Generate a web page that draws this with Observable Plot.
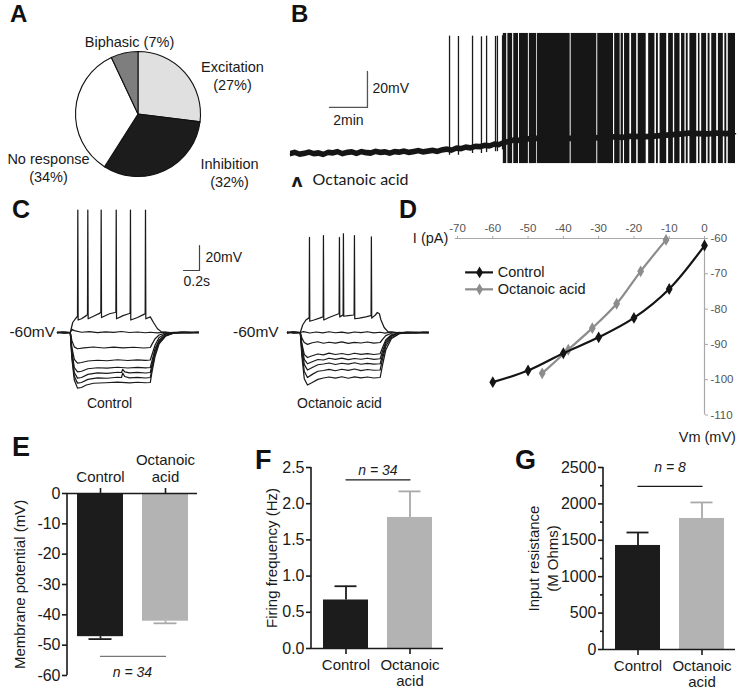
<!DOCTYPE html>
<html><head><meta charset="utf-8">
<script src="https://cdn.jsdelivr.net/npm/d3@7"></script>
<script src="https://cdn.jsdelivr.net/npm/@observablehq/plot@0.6"></script>
<style>
body{margin:0;background:#fff;}
#fig{position:relative;width:738px;height:689px;font-family:"Liberation Sans",Arial,sans-serif;overflow:hidden;background:#fff;}
.p{position:absolute;}
.lt{position:absolute;font-weight:bold;line-height:1;color:#111;}
</style></head><body><div id="fig"></div>
<script>
// ---------------- DATA ----------------
// A: response types
const pieLabels = ["Excitation", "Inhibition", "No response", "Biphasic"];
const piePercents = [27, 32, 34, 7];

// B: recording (time in min, membrane potential in mV)
const bBaselineTime = [0,0.25,0.5,0.75,1,1.25,1.5,1.75,2,2.25,2.5,2.75,3,3.25,3.5,3.75,4,4.25,4.5,4.75,5,5.25,5.5,5.75,6,6.25,6.5,6.75,7,7.25,7.5,7.75,8,8.25,8.5,8.75,9,9.25,9.5,9.75,10,10.25,10.5,10.75,11,11.25,11.5,11.75,12,12.5,13,13.5,14,14.5,15,15.5,16,16.5,17,17.5,18,18.5,19,19.5,20,20.5,21,21.5,22,22.5,23,23.42];
const bBaselineMv = [-60.3,-59.6,-60.5,-60.1,-59.4,-60.2,-59.9,-60.6,-59.5,-59.8,-59.1,-60.2,-59.6,-59.3,-60.1,-59.2,-59.7,-59.9,-59,-59.6,-59.3,-60,-59.1,-59.4,-58.8,-59.5,-59.2,-58.6,-59.3,-58.9,-58.4,-59,-58.2,-57.8,-58.3,-57.2,-57.5,-56.6,-57.1,-56.2,-56.4,-55.7,-55.9,-55,-55.2,-54,-53.6,-52.7,-52.9,-52,-51.8,-52.2,-51.6,-52,-51.5,-51.9,-51.3,-51.6,-51,-51.2,-50.5,-50.9,-50.6,-50.2,-49.8,-49.4,-48.8,-49.2,-49.3,-48.9,-49.2,-49];
const bSpikeTimes = [8.37, 8.84, 9.58, 10.05, 10.32, 10.79, 10.89, 11.16];
const bSpikePeakMv = [5.2, 5.0, 5.2, 4.8, 5.2, 5.0, 5.2, 5.4];
const bSpikeTroughMv = [-61, -61, -60, -60, -59.5, -59, -59, -58];
const bBurstTime = [11.2, 23.42];
const bBurstMv = [-65.6, 6.7];
const bSilenceStart = [11.38,11.69,12.0,12.52,12.96,14.72,16.12,17.0,17.35,17.52,17.86,18.22,18.72,19.18,19.36,19.8,20.15,20.5,20.76,20.93,21.38,21.55,21.9,22.08,22.43,22.78,22.96];
const bSilenceEnd   = [11.44,11.75,12.05,12.57,13.0,14.77,16.17,17.06,17.4,17.58,17.95,18.3,18.85,19.26,19.45,19.9,20.22,20.58,20.83,21.02,21.47,21.64,21.98,22.17,22.52,22.86,23.04];
const bScaleBarMin = 2, bScaleBarMv = 20;

// C: current-step traces (time in s, mV)
const cControlTraces = [
 [[0,-60.2],[0.05,-59.6],[0.1,-60.3],[0.16,-60],[0.18,-57.5],[0.21,-58.5],[0.3,-59.8],[0.4,-59.3],[0.5,-60.1],[0.6,-59.5],[0.7,-59.9],[0.8,-59.2],[0.9,-60],[1.0,-59.6],[1.1,-60.2],[1.16,-59.8],[1.25,-60.3],[1.35,-59.7],[1.45,-60.2],[1.55,-59.6],[1.65,-60.3],[1.76,-59.9]],
 [[0,-60],[0.08,-59.6],[0.16,-60],[0.19,-52],[0.23,-48.5],[0.25,-47],[0.254,38],[0.258,-50],[0.3,-49],[0.36,-46.5],[0.375,-45.5],[0.379,38],[0.383,-49],[0.45,-47],[0.53,-44.5],[0.542,-43.5],[0.546,38],[0.55,-48],[0.65,-45],[0.72,-44],[0.73,-43.5],[0.734,38],[0.738,-49],[0.82,-46.5],[0.89,-45],[0.908,-44.5],[0.912,38],[0.916,-50],[1.0,-48],[1.08,-45.5],[1.096,-45],[1.1,38],[1.104,-49],[1.16,-47.5],[1.2,-52],[1.25,-57],[1.3,-59.5],[1.4,-60.2],[1.55,-59.7],[1.76,-60.1]],
 [[0,-59.7],[0.08,-60.3],[0.16,-60],[0.18,-66.5],[0.21,-71.5],[0.25,-73],[0.33,-72.3],[0.45,-71.6],[0.58,-72.4],[0.7,-71.7],[0.82,-72.3],[0.95,-71.8],[1.08,-72.4],[1.16,-72],[1.18,-69.5],[1.22,-65],[1.27,-62],[1.35,-60.5],[1.45,-59.8],[1.6,-60.3],[1.76,-59.8]],
 [[0,-60.3],[0.08,-59.8],[0.16,-60],[0.18,-72],[0.21,-81.5],[0.25,-84.5],[0.3,-84],[0.38,-82.8],[0.5,-82.2],[0.62,-82.6],[0.75,-81.8],[0.88,-82.4],[1.0,-81.9],[1.1,-82.3],[1.16,-82],[1.18,-78],[1.22,-70],[1.27,-64],[1.35,-61],[1.45,-60.2],[1.6,-59.7],[1.76,-60.2]],
 [[0,-60],[0.08,-60.4],[0.16,-60],[0.18,-75],[0.21,-88],[0.25,-91.5],[0.3,-91],[0.38,-89],[0.5,-88.2],[0.62,-88.5],[0.75,-87.8],[0.88,-88.4],[1.0,-87.9],[1.1,-88.3],[1.16,-88],[1.18,-83],[1.22,-73],[1.27,-66],[1.35,-61.5],[1.45,-60.3],[1.6,-60],[1.76,-59.7]],
 [[0,-59.8],[0.08,-60.2],[0.16,-60],[0.18,-77],[0.21,-92],[0.25,-96.5],[0.3,-96],[0.38,-93.5],[0.5,-92.3],[0.62,-92.7],[0.75,-91.8],[0.8,-92],[0.815,-89.5],[0.84,-91.5],[0.9,-92.3],[1.0,-91.9],[1.1,-92.4],[1.16,-92],[1.18,-86],[1.22,-75],[1.27,-67],[1.35,-62],[1.45,-60.4],[1.6,-60.1],[1.76,-60]],
 [[0,-60.1],[0.08,-59.7],[0.16,-60],[0.18,-79],[0.21,-95],[0.25,-100.5],[0.3,-100],[0.38,-97.5],[0.5,-96.3],[0.62,-96.6],[0.75,-95.8],[0.8,-96],[0.815,-92.5],[0.84,-95.2],[0.9,-96.3],[1.0,-95.9],[1.1,-96.4],[1.16,-96],[1.18,-89],[1.22,-77],[1.27,-68],[1.35,-62.5],[1.45,-60.5],[1.6,-59.9],[1.76,-60.2]],
 [[0,-60],[0.08,-60.3],[0.16,-60],[0.18,-81],[0.21,-98],[0.25,-104.5],[0.3,-104],[0.36,-102],[0.45,-100.6],[0.6,-100.2],[0.75,-99.7],[0.9,-100.3],[1.0,-99.8],[1.1,-100.2],[1.16,-100],[1.18,-92],[1.22,-79],[1.27,-69],[1.35,-63],[1.45,-60.6],[1.6,-60],[1.76,-59.8]]
];
const cOctanoicTraces = [
 [[0,-60.3],[0.06,-59.5],[0.12,-60.4],[0.16,-60],[0.2,-59.3],[0.28,-60.4],[0.36,-59.6],[0.44,-60.3],[0.52,-59.4],[0.6,-60.2],[0.68,-59.7],[0.76,-60.5],[0.84,-59.6],[0.92,-60.1],[1.0,-59.4],[1.08,-60.3],[1.16,-59.8],[1.22,-60.5],[1.3,-59.5],[1.4,-60.3],[1.5,-59.6],[1.6,-60.4],[1.7,-59.7],[1.76,-60.1]],
 [[0,-60],[0.08,-59.6],[0.16,-60],[0.19,-54],[0.23,-50],[0.265,-48.5],[0.271,-47.5],[0.275,16],[0.279,-51],[0.33,-50],[0.4,-48.5],[0.442,-47.5],[0.446,-47],[0.45,17.5],[0.454,-50],[0.52,-48],[0.6,-46],[0.642,-45],[0.646,-44.5],[0.65,16],[0.654,-47.5],[0.68,-46.5],[0.696,-46],[0.7,19],[0.704,-47],[0.76,-46.5],[0.83,-46],[0.834,-45.5],[0.838,17.5],[0.842,-49],[0.9,-48.5],[0.98,-47.5],[1.042,-46.5],[1.046,-46],[1.05,16.5],[1.054,-48.5],[1.1,-46],[1.125,-44],[1.15,-45],[1.17,-50],[1.21,-56],[1.26,-59.5],[1.35,-60.2],[1.5,-59.8],[1.76,-60]],
 [[0,-59.6],[0.08,-60.4],[0.16,-60],[0.18,-64.5],[0.21,-68],[0.25,-69.5],[0.31,-68.2],[0.38,-67.4],[0.45,-68.6],[0.52,-67.8],[0.6,-68.5],[0.68,-67.5],[0.76,-68.7],[0.84,-67.9],[0.92,-68.4],[1.0,-67.6],[1.08,-68.5],[1.16,-68],[1.19,-65.5],[1.23,-62.5],[1.3,-60.6],[1.4,-59.8],[1.55,-60.4],[1.76,-59.8]],
 [[0,-60.2],[0.08,-59.7],[0.16,-60],[0.18,-69],[0.21,-77.5],[0.25,-80],[0.31,-78.6],[0.38,-77.2],[0.45,-77.9],[0.52,-76.5],[0.6,-77.6],[0.68,-76.8],[0.76,-77.8],[0.84,-76.6],[0.92,-77.5],[1.0,-76.9],[1.08,-77.6],[1.16,-77],[1.19,-72],[1.23,-66],[1.3,-61.8],[1.4,-60.3],[1.55,-59.7],[1.76,-60.3]],
 [[0,-59.9],[0.08,-60.3],[0.16,-60],[0.18,-71],[0.21,-81.5],[0.25,-85],[0.31,-83.4],[0.38,-81.6],[0.45,-82],[0.52,-80.6],[0.6,-81.5],[0.68,-80.5],[0.76,-81.7],[0.84,-80.8],[0.92,-81.4],[1.0,-80.6],[1.08,-81.5],[1.16,-81],[1.19,-75],[1.23,-67.5],[1.3,-62.5],[1.4,-60.5],[1.55,-60],[1.76,-59.6]],
 [[0,-60.4],[0.08,-59.8],[0.16,-60],[0.18,-73],[0.21,-85.5],[0.25,-90],[0.31,-88],[0.38,-85.8],[0.45,-85.2],[0.52,-84.4],[0.6,-85.6],[0.68,-84.6],[0.76,-85.3],[0.84,-84.2],[0.92,-85.4],[1.0,-84.7],[1.08,-85.3],[1.16,-85],[1.19,-78],[1.23,-69],[1.3,-63],[1.4,-60.6],[1.55,-60.1],[1.76,-60.3]],
 [[0,-59.8],[0.08,-60.3],[0.16,-60],[0.18,-76],[0.21,-91],[0.25,-96],[0.31,-93.5],[0.38,-91],[0.45,-90.4],[0.52,-89.5],[0.6,-90.6],[0.68,-89.4],[0.76,-90.3],[0.84,-89.2],[0.92,-90.5],[1.0,-89.6],[1.08,-90.2],[1.16,-90],[1.19,-81],[1.23,-71],[1.3,-64],[1.4,-60.8],[1.55,-60.2],[1.76,-59.9]],
 [[0,-60.1],[0.08,-59.6],[0.16,-60],[0.18,-79],[0.21,-97],[0.25,-102],[0.31,-100],[0.38,-97.5],[0.45,-96.4],[0.52,-95.6],[0.6,-96.5],[0.68,-95.4],[0.76,-96.6],[0.84,-95.5],[0.92,-96.3],[1.0,-95.6],[1.08,-96.4],[1.16,-96],[1.19,-86],[1.23,-74],[1.3,-65],[1.4,-61],[1.55,-60.2],[1.76,-60]]
];
const cScaleBarS = 0.2, cScaleBarMv = 20;

// D: I–V relation
const dCurrentControl = [0, -10, -20, -30, -40, -50, -60];
const dVmControl = [-62, -74.3, -82.5, -88, -92.5, -97.4, -100.7];
const dCurrentOctanoic = [-10.9, -18.1, -24.9, -31.8, -38.6, -46];
const dVmOctanoic = [-60.4, -69.3, -78.5, -85.4, -91.5, -98.2];
const dTicksX = [-70, -60, -50, -40, -30, -20, -10, 0];
const dTicksY = [-60, -70, -80, -90, -100, -110];

// E, F, G: bar summaries
const categories = ["Control", "Octanoic acid"];
const eMean = [-47.2, -42.1];
const eSem = [0.8, 0.7];
const eTicks = [0, -10, -20, -30, -40, -50, -60];
const fMean = [0.67, 1.81];
const fSem = [0.19, 0.36];
const fTicks = [0, 0.5, 1.0, 1.5, 2.0, 2.5];
const gMean = [1429, 1800];
const gSem = [178, 220];
const gTicks = [0, 500, 1000, 1500, 2000, 2500];
const gMinorTicks = [250, 750, 1250, 1750, 2250];

// ---------------- RENDER ----------------
const FONT = '"Liberation Sans", Arial, sans-serif';
const fig = document.getElementById("fig");
function place(node, left, top) {
  const d = document.createElement("div");
  d.className = "p"; d.style.left = left + "px"; d.style.top = top + "px";
  d.appendChild(node); fig.appendChild(d);
}
function letter(t, left, top, size) {
  const d = document.createElement("div");
  d.className = "lt"; d.textContent = t;
  d.style.left = left + "px"; d.style.top = top + "px"; d.style.fontSize = size + "px";
  fig.appendChild(d);
}
const style = (fs) => ({fontFamily: FONT, fontSize: fs + "px", background: "transparent", overflow: "visible", color: "#1a1a1a"});

// ---- A: pie ----
const pieData = pieLabels.map((label, i) => ({label, pct: piePercents[i]}));
const pieFill = {"Excitation": "#e0e0e0", "Inhibition": "#1c1c1c", "No response": "#ffffff", "Biphasic": "#7e7e7e"};
const pieLabelPos = {"Excitation": [232, 74.5], "Inhibition": [229, 172], "No response": [48, 167], "Biphasic": [129, 41]};
const plotA = Plot.plot({
  width: 285, height: 195, margin: 0, axis: null,
  x: {domain: [0, 285]}, y: {domain: [0, 195], reverse: true},
  style: style(14),
  marks: [
    (index, scales) => {
      const cx = scales.x(138), cy = scales.y(114), r = scales.x(62.5) - scales.x(0);
      const g = d3.create("svg:g").attr("transform", `translate(${cx},${cy})`);
      const arcs = d3.pie().sort(null).value(d => d.pct)(pieData);
      const arc = d3.arc().innerRadius(0).outerRadius(r);
      g.selectAll("path").data(arcs).join("path")
        .attr("d", arc).attr("fill", d => pieFill[d.data.label])
        .attr("stroke", "#111").attr("stroke-width", 1.1);
      return g.node();
    },
    Plot.text(pieData, {
      x: d => pieLabelPos[d.label][0], y: d => pieLabelPos[d.label][1],
      text: d => d.label === "Biphasic" ? `${d.label} (${d.pct}%)` : `${d.label}\n(${d.pct}%)`,
      lineHeight: 1.25, fontSize: 14.5, fill: "#1a1a1a"
    })
  ]
});
place(plotA, 0, 0);

// ---- B: recording ----
const bBaseline = bBaselineTime.map((t, i) => ({t, v: bBaselineMv[i]}));
const bSpikes = bSpikeTimes.map((t, i) => ({t, peak: bSpikePeakMv[i], trough: bSpikeTroughMv[i]}));
const bSilences = bSilenceStart.map((t, i) => ({t1: t, t2: bSilenceEnd[i]}));
const bSbT = 4.05, bSbV = -34.4;
const plotB = Plot.plot({
  width: 453, height: 195, marginLeft: 5, marginRight: 3, marginTop: 9, marginBottom: 6, axis: null,
  x: {domain: [0, 23.42]}, y: {domain: [-80, 20]},
  style: style(14),
  marks: [
    Plot.rect([{t1: bBurstTime[0], t2: bBurstTime[1], v1: bBurstMv[0], v2: bBurstMv[1]}], {x1: "t1", x2: "t2", y1: "v1", y2: "v2", fill: "#161616"}),
    Plot.rect(bSilences, {x1: "t1", x2: "t2", y1: () => bBurstMv[0] - 1, y2: () => bBurstMv[1] + 1, fill: "#ffffff"}),
    Plot.ruleX(bSpikes, {x: "t", y1: "trough", y2: "peak", stroke: "#1a1a1a", strokeWidth: 1.3}),
    Plot.areaY(bBaseline, {x: "t", y1: d => d.v - 1.7, y2: d => d.v + 1.5, fill: "#161616"}),
    Plot.line(bBaseline, {x: "t", y: "v", stroke: "#161616", strokeWidth: 1.6}),
    Plot.line([[bSbT - bScaleBarMin, bSbV], [bSbT, bSbV], [bSbT, bSbV + bScaleBarMv]], {x: d => d[0], y: d => d[1], stroke: "#555", strokeWidth: 1.3}),
    Plot.text([`${bScaleBarMv}mV`], {x: () => bSbT, y: () => bSbV + 10.5, dx: 5, textAnchor: "start", fontSize: 14}),
    Plot.text([`${bScaleBarMin}min`], {x: () => bSbT - 1.8, y: () => bSbV - 7.4, textAnchor: "start", fontSize: 14}),
    Plot.text(["ʌ"], {x: () => 0.05, y: () => -75.5, textAnchor: "start", fontSize: 17, fontWeight: "bold", fontFamily: "DejaVu Sans"}),
    Plot.text(["Octanoic acid"], {x: () => 1.16, y: () => -74.4, textAnchor: "start", fontSize: 16, fontFamily: "Lato"})
  ]
});
place(plotB, 285, 0);

// ---- C: traces ----
function tracePlot(traces, opts) {
  const flat = traces.flatMap((tr, i) => tr.map(([t, v]) => ({t, v, i})));
  return Plot.plot({
    width: opts.width, height: 215, marginLeft: opts.marginLeft, marginRight: 0, marginTop: 2, marginBottom: 15.5, axis: null,
    x: {domain: opts.xDomain}, y: {domain: [-110, 48]},
    style: style(14),
    marks: [
      Plot.line(flat, {x: "t", y: "v", z: "i", stroke: "#1a1a1a", strokeWidth: 1.25}),
      Plot.text(["-60mV"], {x: () => opts.mvLabelT, y: () => -60, textAnchor: "end", fontSize: 15.5}),
      Plot.text([opts.label], {x: () => 0.65, y: () => -116.8, fontSize: 14}),
      ...(opts.scaleBar ? [
        Plot.line([[1.775 - cScaleBarS, -10.4], [1.775, -10.4], [1.775, -10.4 + cScaleBarMv]], {x: d => d[0], y: d => d[1], stroke: "#444", strokeWidth: 1.2}),
        Plot.text([`${cScaleBarMv}mV`], {x: () => 1.775, y: () => 0, dx: 6, textAnchor: "start", fontSize: 14}),
        Plot.text([`${cScaleBarS}s`], {x: () => 1.575, y: () => -19.5, textAnchor: "start", fontSize: 14})
      ] : [])
    ]
  });
}
place(tracePlot(cControlTraces, {width: 245, marginLeft: 57, xDomain: [0, 2.35], mvLabelT: -0.03, label: "Control", scaleBar: true}), 0, 195);
place(tracePlot(cOctanoicTraces, {width: 190, marginLeft: 47, xDomain: [0, 1.79], mvLabelT: -0.11, label: "Octanoic acid", scaleBar: false}), 240, 195);

// ---- D: I-V ----
const dControl = dCurrentControl.map((x, i) => ({x, y: dVmControl[i]}));
const dOct = dCurrentOctanoic.map((x, i) => ({x, y: dVmOctanoic[i]}));
const dCol = {c: "#141414", o: "#8c8c8c"};
const legX1 = -67.7, legX2 = -59.8, legY = [-69.6, -74.4];
const plotD = Plot.plot({
  width: 328, height: 250, marginLeft: 47, marginRight: 34, marginTop: 43, marginBottom: 30.5,
  x: {domain: [-70, 0]}, y: {domain: [-110, -60]},
  style: style(11),
  marks: [
    Plot.ruleY([-60], {x1: () => -70.6, x2: () => 0, stroke: "#a8a8a8", strokeWidth: 1.2}),
    Plot.ruleX([0], {y1: () => -60, y2: () => -110, stroke: "#a8a8a8", strokeWidth: 1.2}),
    Plot.axisX(dTicksX, {anchor: "top", tickSize: 3, tickPadding: 4, fontSize: 11.5, color: "#555", stroke: "#a8a8a8", tickFormat: d => String(d), label: null}),
    Plot.axisY(dTicksY, {anchor: "right", tickSize: 3, tickPadding: 3, fontSize: 11.5, color: "#555", stroke: "#a8a8a8", tickFormat: d => String(d), label: null}),
    Plot.line(dOct, {x: "x", y: "y", stroke: dCol.o, strokeWidth: 2.2, curve: "catmull-rom"}),
    Plot.dot(dOct, {x: "x", y: "y", fill: dCol.o, symbol: "diamond", r: 3.6}),
    Plot.line(dControl, {x: "x", y: "y", stroke: dCol.c, strokeWidth: 2.2, curve: "catmull-rom"}),
    Plot.dot(dControl, {x: "x", y: "y", fill: dCol.c, symbol: "diamond", r: 3.6}),
    Plot.ruleY([legY[0]], {x1: () => legX1, x2: () => legX2, stroke: dCol.c, strokeWidth: 2.2}),
    Plot.dot([legY[0]], {x: () => (legX1 + legX2) / 2, y: d => d, fill: dCol.c, symbol: "diamond", r: 3.6}),
    Plot.ruleY([legY[1]], {x1: () => legX1, x2: () => legX2, stroke: dCol.o, strokeWidth: 2.2}),
    Plot.dot([legY[1]], {x: () => (legX1 + legX2) / 2, y: d => d, fill: dCol.o, symbol: "diamond", r: 3.6}),
    Plot.text(["Control", "Octanoic acid"], {x: () => legX2 + 1.2, y: (d, i) => legY[i], textAnchor: "start", fontSize: 14.5, fill: "#1a1a1a"}),
    Plot.text(["I (pA)"], {x: () => -72.6, y: () => -60, textAnchor: "end", fontSize: 14.5, fill: "#1a1a1a"}),
    Plot.text(["Vm (mV)"], {x: () => 8.9, y: () => -116.3, textAnchor: "end", fontSize: 14.5, fill: "#1a1a1a"})
  ]
});
place(plotD, 410, 195);

// ---- E, F, G: bars ----
const barFill = {"Control": "#1c1c1c", "Octanoic acid": "#b3b3b3"};
const errStroke = {"Control": "#1c1c1c", "Octanoic acid": "#a9a9a9"};
const catText = c => c.replace(" ", "\n");
const axisLine = (w) => (index, scales, values, dims) => d3.create("svg:line")
  .attr("x1", dims.marginLeft).attr("x2", dims.marginLeft)
  .attr("y1", dims.marginTop).attr("y2", dims.height - dims.marginBottom)
  .attr("stroke", "#1a1a1a").attr("stroke-width", w).node();

function barPlot(o) {
  const data = categories.map((c, i) => ({c, mean: o.mean[i], err: o.mean[i] + o.sign * o.sem[i]}));
  return Plot.plot({
    width: o.width, height: 249, marginLeft: o.ml, marginRight: o.mr, marginTop: o.mt, marginBottom: o.mb,
    x: {domain: categories, type: "band", paddingInner: 0.3, paddingOuter: o.po},
    y: {domain: o.yDomain},
    color: {type: "identity"},
    style: style(15),
    marks: [
      Plot.ruleX(data, {x: "c", y1: "mean", y2: "err", stroke: d => errStroke[d.c], strokeWidth: 1.8}),
      Plot.tickY(data, {x: "c", y: "err", stroke: d => errStroke[d.c], strokeWidth: 1.8, insetLeft: 11.5, insetRight: 11.5}),
      Plot.barY(data, {x: "c", y1: () => 0, y2: "mean", fill: d => barFill[d.c]}),
      axisLine(1.6),
      Plot.ruleY([0], {stroke: "#1a1a1a", strokeWidth: 1.6}),
      Plot.axisY(o.ticks, {tickSize: 5, tickPadding: 2, fontSize: 16, strokeWidth: 1.6, tickFormat: o.fmt, label: null}),
      ...(o.minor ? [Plot.axisY(o.minor, {tickSize: 3, strokeWidth: 1.6, tickFormat: () => "", label: null})] : []),
      Plot.axisX({anchor: o.top ? "top" : "bottom", tickSize: 6, strokeWidth: 1.6, tickFormat: () => "", label: null}),
      Plot.text(data, {x: "c", text: d => catText(d.c), frameAnchor: o.top ? "top" : "bottom", dy: o.top ? -12 : 10,
        lineAnchor: o.top ? "bottom" : "top", lineHeight: o.top ? 1.1 : 1.06, fontSize: 15}),
      Plot.line(categories.map(c => ({c, y: o.nY})), {x: "c", y: "y", stroke: o.nStroke, strokeWidth: 1.3}),
      Plot.text([o.nText], {x: () => categories[0], y: () => o.nTextY, dx: 32, fontStyle: "italic", fontSize: 14}),
      Plot.text([o.yLabel], {frameAnchor: "left", textAnchor: "middle", y: () => (o.yDomain[0] + o.yDomain[1]) / 2, dx: o.yLabelDx, rotate: -90, fontSize: 15, lineHeight: 1.25})
    ]
  });
}
place(barPlot({width: 210, ml: 67, mr: 13, mt: 53, mb: 14, po: 0.15, yDomain: [-60, 0], mean: eMean, sem: eSem, sign: -1,
  ticks: eTicks, fmt: d => String(d), top: true, nY: -53.7, nStroke: "#777", nText: "n = 34", nTextY: -59,
  yLabel: "Membrane potential (mV)", yLabelDx: -49}), 0, 440);
place(barPlot({width: 210, ml: 71, mr: 7, mt: 27, mb: 41, po: 0.17, yDomain: [0, 2.5], mean: fMean, sem: fSem, sign: 1,
  ticks: fTicks, fmt: d => d.toFixed(1), top: false, nY: 2.33, nStroke: "#1a1a1a", nText: "n = 34", nTextY: 2.46,
  yLabel: "Firing frequency (Hz)", yLabelDx: -41}), 240, 440);
place(barPlot({width: 258, ml: 123, mr: 3, mt: 27, mb: 40, po: 0.17, yDomain: [0, 2500], mean: gMean, sem: gSem, sign: 1,
  ticks: gTicks, minor: gMinorTicks, fmt: d => String(d), top: false, nY: 2240, nStroke: "#1a1a1a", nText: "n = 8", nTextY: 2500,
  yLabel: "Input resistance\n(M Ohms)", yLabelDx: -61}), 480, 440);

// panel letters
letter("A", 10, 2, 24); letter("B", 291, 2, 24);
letter("C", 12, 197, 25); letter("D", 399, 197, 25);
letter("E", 12, 434, 27); letter("F", 255, 447, 27); letter("G", 515, 447, 27);
</script></body></html>
